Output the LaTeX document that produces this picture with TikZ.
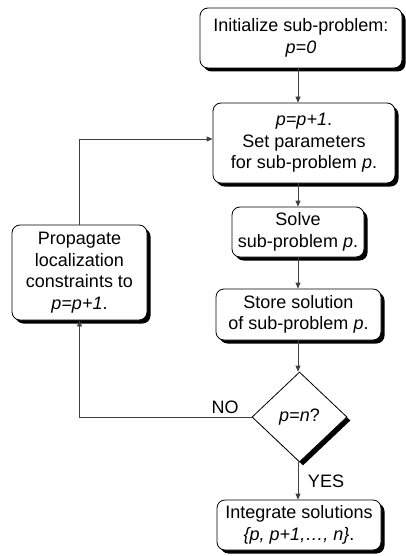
\documentclass[tikz,border=0pt]{standalone}
\usepackage{fontspec}
\setmainfont{Liberation Sans}
\usetikzlibrary{shapes.geometric,shadows,arrows.meta}
\begin{document}
\begin{tikzpicture}[x=1pt,y=-1pt,
  txt/.style={font=\fontsize{18}{21.5}\selectfont},
  box/.style={txt, draw=black, line width=0.8pt, fill=white, rounded corners=8pt,
    align=center, inner sep=0pt,
    drop shadow={shadow xshift=3.5pt, shadow yshift=-3.5pt, opacity=1, fill=black}},
  decision/.style={txt, diamond, draw=black, line width=0.8pt, fill=white, inner sep=0pt,
    drop shadow={shadow xshift=3.5pt, shadow yshift=-3.5pt, opacity=1, fill=black}},
  conn/.style={draw=black!75, line width=0.8pt, -{Triangle[length=6pt,width=5pt]}}
]
\useasboundingbox (0,0) rectangle (406,556);

% main column
\node[box, minimum width=202pt, minimum height=60pt] (init) at (301,38)
  {Initialize sub-problem:\\\textit{p=0}};
\node[box, minimum width=182pt, minimum height=80pt] (setp) at (304,143)
  {\textit{p=p+1}.\\Set parameters\\for sub-problem \textit{p}.};
\node[box, minimum width=132pt, minimum height=50pt] (solve) at (298,232)
  {Solve\\sub-problem \textit{p}.};
\node[box, minimum width=165pt, minimum height=51pt] (store) at (298.5,314.5)
  {Store solution\\of sub-problem \textit{p}.};
\node[decision, minimum width=95pt, minimum height=90pt] (test) at (299.5,417)
  {\textit{p=n}?};
\node[box, minimum width=164pt, minimum height=50pt] (integ) at (299,525)
  {Integrate solutions\\\textit{\{p, p+1,…, n\}}.};

% feedback box
\node[box, minimum width=135pt, minimum height=95pt] (prop) at (79.5,272.5)
  {Propagate\\localization\\constraints to\\\textit{p=p+1}.};

% connectors
\coordinate (col) at (298,0);
\draw[conn] (init.south -| col) -- (setp.north -| col);
\draw[conn] (setp.south -| col) -- (solve.north -| col);
\draw[conn] (solve.south -| col) -- (store.north -| col);
\draw[conn] (store.south -| col) -- (test.north -| col);
\draw[conn] (test.south -| col) -- (integ.north -| col);
\draw[conn] (test.west) -| (prop.south);
\draw[conn] (prop.north) |- ([yshift=4pt]setp.west);

% branch labels
\node[txt] (no) at (225,407) {NO};
\node[txt] (yes) at (326,481) {YES};
\end{tikzpicture}
\end{document}
